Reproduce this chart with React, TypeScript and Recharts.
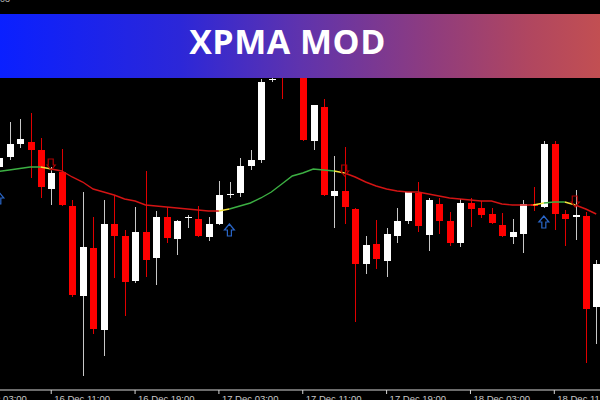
import { ComposedChart, Bar, Line, XAxis, YAxis } from 'recharts';

// hourly candles, first one sits just off the left edge
const firstHour = -1;

const opens = [
  1.2823, 1.2833, 1.2846, 1.2848, 1.2840, 1.2801, 1.2818, 1.2784, 1.2694, 1.2742,
  1.2660, 1.2766, 1.2754, 1.2709, 1.2758, 1.2732, 1.2773, 1.2751, 1.2772, 1.2771,
  1.2753, 1.2766, 1.2795, 1.2797, 1.2824, 1.2830, 1.2910, 1.2945, 1.2960, 1.2940,
  1.2849, 1.2883, 1.2794, 1.2799, 1.2781, 1.2726, 1.2746, 1.2729, 1.2754, 1.2769,
  1.2797, 1.2755, 1.2786, 1.2769, 1.2747, 1.2787, 1.2782, 1.2776, 1.2765, 1.2753,
  1.2756, 1.2786, 1.2783, 1.2846, 1.2776, 1.2773, 1.2774, 1.2683,
];
const highs = [
  1.2835, 1.2868, 1.2871, 1.2877, 1.2852, 1.2823, 1.2841, 1.2790, 1.2798, 1.2773,
  1.2790, 1.2795, 1.2760, 1.2783, 1.2819, 1.2779, 1.2783, 1.2770, 1.2775, 1.2784,
  1.2773, 1.2809, 1.2808, 1.2832, 1.2840, 1.2911, 1.2913, 1.2955, 1.2970, 1.2950,
  1.2885, 1.2891, 1.2834, 1.2843, 1.2782, 1.2754, 1.2770, 1.2762, 1.2782, 1.2798,
  1.2808, 1.2792, 1.2792, 1.2778, 1.2791, 1.2792, 1.2789, 1.2782, 1.2777, 1.2771,
  1.2790, 1.2803, 1.2849, 1.2849, 1.2780, 1.2800, 1.2778, 1.2730,
];
const lows = [
  1.2820, 1.2830, 1.2842, 1.2812, 1.2792, 1.2785, 1.2784, 1.2693, 1.2614, 1.2656,
  1.2634, 1.2712, 1.2674, 1.2707, 1.2713, 1.2705, 1.2747, 1.2735, 1.2762, 1.2753,
  1.2749, 1.2765, 1.2792, 1.2793, 1.2820, 1.2827, 1.2908, 1.2891, 1.2916, 1.2849,
  1.2840, 1.2794, 1.2762, 1.2766, 1.2668, 1.2716, 1.2721, 1.2713, 1.2747, 1.2766,
  1.2758, 1.2739, 1.2756, 1.2744, 1.2743, 1.2763, 1.2772, 1.2766, 1.2753, 1.2746,
  1.2737, 1.2779, 1.2782, 1.2760, 1.2744, 1.2750, 1.2627, 1.2646,
];
const closes = [
  1.2832, 1.2846, 1.2851, 1.2840, 1.2803, 1.2817, 1.2785, 1.2695, 1.2743, 1.2661,
  1.2766, 1.2754, 1.2708, 1.2758, 1.2730, 1.2773, 1.2752, 1.2769, 1.2773, 1.2754,
  1.2766, 1.2795, 1.2796, 1.2824, 1.2830, 1.2908, 1.2911, 1.2920, 1.2930, 1.2850,
  1.2885, 1.2795, 1.2799, 1.2783, 1.2726, 1.2745, 1.2731, 1.2756, 1.2769, 1.2798,
  1.2764, 1.2790, 1.2769, 1.2747, 1.2787, 1.2781, 1.2775, 1.2767, 1.2754, 1.2758,
  1.2786, 1.2784, 1.2846, 1.2776, 1.2771, 1.2775, 1.2681, 1.2726,
];

// XPMA values and the state of each segment ending at that candle
const xpma = [
  1.28185, 1.2820, 1.28215, 1.2823, 1.2823, 1.2821, 1.2819, 1.2813, 1.2808, 1.2801,
  1.2798, 1.2795, 1.2791, 1.2789, 1.2785, 1.2784, 1.2783, 1.2782, 1.2781, 1.2780,
  1.2779, 1.2779, 1.2781, 1.2784, 1.2787, 1.2792, 1.2798, 1.2806, 1.2814, 1.2817,
  1.2821, 1.2820, 1.2819, 1.2817, 1.2813, 1.2808, 1.2804, 1.2801, 1.2799, 1.2798,
  1.2798, 1.2796, 1.2794, 1.2792, 1.2791, 1.2790, 1.2789, 1.2789, 1.2786, 1.2785,
  1.2785, 1.2785, 1.2787, 1.2788, 1.2788, 1.2785, 1.2781, 1.2776,
];
const xpmaTrend = [
  'up', 'up', 'up', 'up', 'up', 'turn', 'down', 'down', 'down', 'down',
  'down', 'down', 'down', 'down', 'down', 'down', 'down', 'down', 'down', 'down',
  'down', 'down', 'turn', 'up', 'up', 'up', 'up', 'up', 'up', 'up',
  'up', 'up', 'up', 'turn', 'down', 'down', 'down', 'down', 'down', 'down',
  'down', 'down', 'down', 'down', 'down', 'down', 'down', 'down', 'down', 'down',
  'down', 'down', 'turn', 'up', 'up', 'turn', 'down', 'down',
];

const buyArrows = [
  { hour: -1, price: 1.2798 },
  { hour: 21, price: 1.2766 },
  { hour: 51, price: 1.2774 },
];
const sellArrows = [
  { hour: 4, price: 1.2820 },
  { hour: 32, price: 1.2814 },
  { hour: 54, price: 1.2783 },
];

const tickHours = [-4, 4, 12, 20, 28, 36, 44, 52];
const tickLabels = [
  '16 Dec 03:00', '16 Dec 11:00', '16 Dec 19:00', '17 Dec 03:00',
  '17 Dec 11:00', '17 Dec 19:00', '18 Dec 03:00', '18 Dec 11:00',
];

const trendValue = (i: number, state: string) =>
  xpmaTrend[i] === state || xpmaTrend[i + 1] === state ? xpma[i] : null;

const rows = opens.map((open, i) => {
  const hour = firstHour + i;
  const buy = buyArrows.find((a) => a.hour === hour);
  const sell = sellArrows.find((a) => a.hour === hour);
  return {
    hour,
    open,
    high: highs[i],
    low: lows[i],
    close: closes[i],
    maUp: trendValue(i, 'up'),
    maDown: trendValue(i, 'down'),
    maTurn: trendValue(i, 'turn'),
    buy: buy ? buy.price : null,
    sell: sell ? sell.price : null,
  };
});

function Candle(props: any) {
  const { x, y, width, height, payload } = props;
  if (x == null || y == null || !payload) return <g />;
  const { open, close, high, low } = payload;
  const top = Math.min(y, y + height);
  const h = Math.abs(height);
  const span = high - low;
  const toY = (v: number) => (span === 0 ? top : top + ((high - v) / span) * h);
  const cx = Math.round(x + width / 2);
  const bull = close >= open;
  const bodyTop = toY(Math.max(open, close));
  const bodyBottom = toY(Math.min(open, close));
  return (
    <g>
      <line
        x1={cx + 0.5}
        x2={cx + 0.5}
        y1={top}
        y2={top + h}
        stroke={bull ? '#c8c8c8' : '#e00000'}
        strokeWidth={1}
      />
      <rect
        x={cx - 3}
        y={bodyTop}
        width={7}
        height={Math.max(bodyBottom - bodyTop, 1)}
        fill={bull ? '#ffffff' : '#ff0000'}
      />
    </g>
  );
}

function BuyArrow(props: any) {
  const { cx, cy, index } = props;
  if (cx == null || cy == null || props.value == null) return <g key={index} />;
  const d = `M${cx},${cy} L${cx + 5},${cy + 6} L${cx + 2},${cy + 6} L${cx + 2},${cy + 12} L${cx - 2},${cy + 12} L${cx - 2},${cy + 6} L${cx - 5},${cy + 6} Z`;
  return <path key={index} d={d} fill="none" stroke="#2a66c8" strokeWidth={1.2} />;
}

function SellArrow(props: any) {
  const { cx, cy, index } = props;
  if (cx == null || cy == null || props.value == null) return <g key={index} />;
  const d = `M${cx},${cy} L${cx + 4},${cy - 5} L${cx + 2},${cy - 5} L${cx + 2},${cy - 11} L${cx - 3},${cy - 11} L${cx - 3},${cy - 5} L${cx - 4},${cy - 5} Z`;
  return <path key={index} d={d} fill="none" stroke="#b00000" strokeWidth={1.2} />;
}

function TimeTick({ x, y, payload }: any) {
  const idx = tickHours.indexOf(payload.value);
  return (
    <text
      x={x + 3}
      y={y + 6}
      fill="#c8c8c8"
      fontSize={9.5}
      fontFamily="'Liberation Sans', Arial, sans-serif"
      textAnchor="start"
    >
      {tickLabels[idx]}
    </text>
  );
}

export default function App() {
  return (
    <div
      style={{
        position: 'fixed',
        left: 0,
        top: 0,
        width: 600,
        height: 400,
        overflow: 'hidden',
        background: '#000',
      }}
    >
      <ComposedChart
        width={600}
        height={420}
        data={rows}
        margin={{ top: 0, right: 0, bottom: 0, left: 0 }}
      >
        <XAxis
          dataKey="hour"
          type="number"
          domain={[-0.887, 56.36]}
          allowDataOverflow
          ticks={tickHours}
          interval={0}
          height={30}
          tick={<TimeTick />}
          tickSize={4}
          stroke="#d8d8d8"
        />
        <YAxis hide type="number" domain={[1.26, 1.299]} allowDataOverflow />
        <Bar
          dataKey={(d: any) => [d.low, d.high]}
          shape={<Candle />}
          barSize={7}
          isAnimationActive={false}
        />
        <Line dataKey="maUp" stroke="#3cb043" strokeWidth={1.4} dot={false} activeDot={false} isAnimationActive={false} />
        <Line dataKey="maDown" stroke="#d41414" strokeWidth={1.4} dot={false} activeDot={false} isAnimationActive={false} />
        <Line dataKey="maTurn" stroke="#f2e23a" strokeWidth={1.4} dot={false} activeDot={false} isAnimationActive={false} />
        <Line dataKey="buy" stroke="none" dot={<BuyArrow />} activeDot={false} isAnimationActive={false} />
        <Line dataKey="sell" stroke="none" dot={<SellArrow />} activeDot={false} isAnimationActive={false} />
      </ComposedChart>
      <div
        style={{
          position: 'absolute',
          left: 0,
          top: -5,
          fontSize: 9,
          lineHeight: '9px',
          color: '#bbb',
          fontFamily: "'Liberation Sans', Arial, sans-serif",
        }}
      >
        03
      </div>
      <div
        style={{
          position: 'absolute',
          left: 0,
          top: 14,
          width: 600,
          height: 64,
          background:
            'linear-gradient(90deg, #0a20ff 0%, #2c27d8 30%, #5f33ad 50%, #8f3c7e 72%, #b04660 88%, #c24f52 100%)',
        }}
      >
        <div
          style={{
            position: 'absolute',
            left: 0,
            top: 10,
            width: 575,
            textAlign: 'center',
            color: '#fff',
            fontFamily: "'Open Sans', sans-serif",
            fontWeight: 700,
            fontSize: 34,
            lineHeight: '34px',
            letterSpacing: 0.5,
          }}
        >
          XPMA MOD
        </div>
      </div>
    </div>
  );
}
